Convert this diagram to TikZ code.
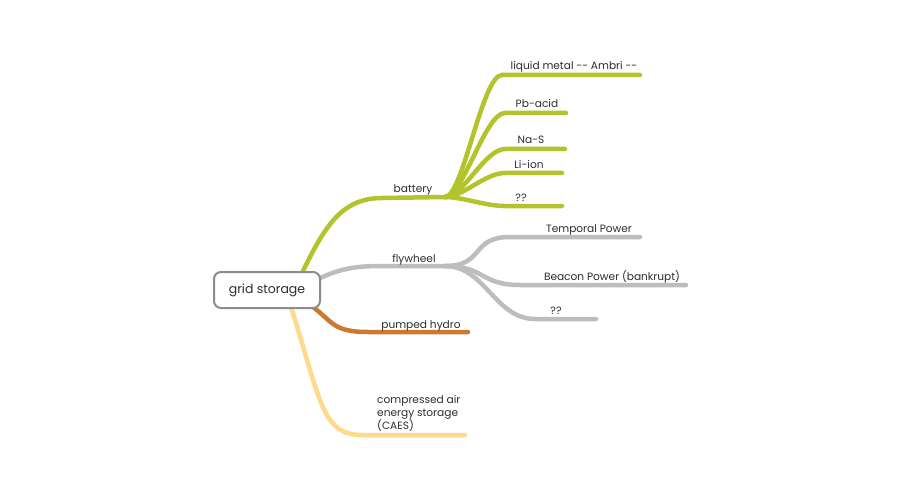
\documentclass[tikz,border=0pt]{standalone}
\usepackage{fontspec}
\setmainfont{Poppins}
\usetikzlibrary{calc,backgrounds}
\definecolor{ink}{HTML}{2E2E2E}
\definecolor{frame}{HTML}{8C8C8C}
\definecolor{lime}{HTML}{B3C32B}
\definecolor{stone}{HTML}{BDBDBD}
\definecolor{rust}{HTML}{CD7A2E}
\definecolor{sand}{HTML}{FFD98C}

\begin{document}
\begin{tikzpicture}[x=1pt,y=-1pt,font=\fontsize{10.6}{12}\selectfont,text=ink,
  branch/.style={line width=4.5pt,line cap=round},
  lbl/.style={anchor=base,inner sep=0pt}]
  \useasboundingbox (0,0) rectangle (900,500);
  \node[draw=frame,fill=white,line width=2pt,rounded corners=7pt,
        minimum width=106pt,minimum height=36pt,font=\fontsize{12.5}{14}\selectfont]
    (root) at (267,290) {grid storage};
  % hubs
  \coordinate (bat) at (382,198);
  \coordinate (bathub) at (445,197);
  \coordinate (fly) at (385,266);
  \coordinate (flyhub) at (445,266);
  \coordinate (hyd) at (368,332);
  \coordinate (hydend) at (468,332);
  \coordinate (caes) at (362,435);
  \coordinate (caesend) at (465,435);
  \node[lbl] (battery) at (413,193) {battery};
  \node[lbl] (flywheel) at (414,262) {flywheel};
  \node[lbl] (pumped) at (421,328) {pumped hydro};
  \node[anchor=south west,inner sep=0pt,align=left,
        font=\fontsize{10.6}{13}\selectfont] (compressed) at (377,432)
    {compressed air\\energy storage\\(CAES)};
  \begin{scope}[on background layer]
    \fill[white] (0,0) rectangle (900,500);
    \draw[branch,lime] ($(root.north east)+(-18,0)$)
      .. controls +(22,-45) and +(-40,0) .. (bat) -- (bathub);
    \draw[branch,stone] ($(root.east)+(-5,-10)$)
      .. controls +(25,-12) and +(-30,0) .. (fly) -- (flyhub);
    \draw[branch,rust] ($(root.south east)+(-8,-2)$)
      .. controls +(20,15) and +(-35,0) .. (hyd) -- (hydend);
    \draw[branch,sand] ($(root.south)+(24,-2)$)
      .. controls +(30,95) and +(-40,0) .. (caes) -- (caesend);
  \end{scope}
  % battery leaves
  \foreach \nm/\y/\xa/\xb/\xl/\t in {lm/75/502/640/574/{liquid metal -{}- Ambri -{}-},
      pb/113/505/566/537/Pb-acid, nas/149/505/565/531/Na-S,
      li/173/505/562/529/Li-ion, bq/206/505/562/521/??}{
    \coordinate (\nm a) at (\xa,\y);
    \coordinate (\nm b) at (\xb,\y);
    \node[lbl] (\nm) at (\xl,\y-5) {\t};
    \draw[branch,lime] (bathub) .. controls +(18,0) and +(-20,0) .. (\nm a) -- (\nm b);
  }
  % flywheel leaves
  \foreach \nm/\y/\xa/\xb/\xl/\t in {tp/237/510/640/589/Temporal Power,
      bp/285/520/686/612/Beacon Power (bankrupt), fq/319/535/596/556/??}{
    \coordinate (\nm a) at (\xa,\y);
    \coordinate (\nm b) at (\xb,\y);
    \node[lbl] (\nm) at (\xl,\y-5) {\t};
    \draw[branch,stone] (flyhub) .. controls +(40,0) and +(-40,0) .. (\nm a) -- (\nm b);
  }
\end{tikzpicture}
\end{document}
